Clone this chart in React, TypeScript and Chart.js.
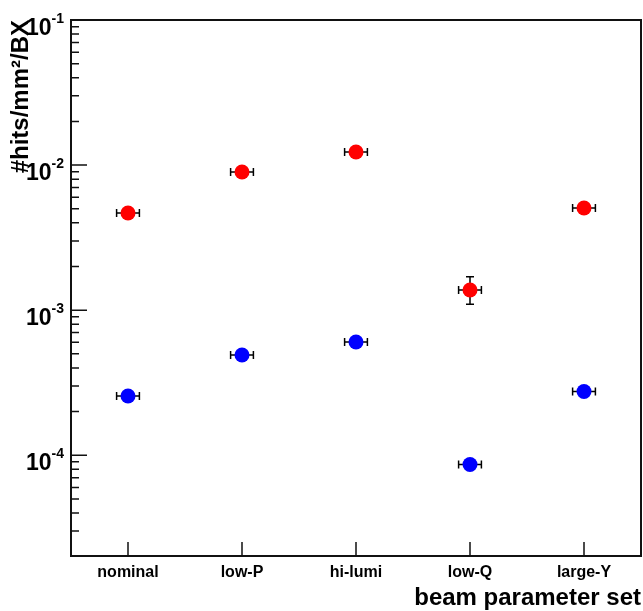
import React, { useEffect, useRef } from 'react';
import { Chart, registerables } from 'chart.js';

Chart.register(...registerables);

// ---- data ----
const categories = ['nominal', 'low-P', 'hi-lumi', 'low-Q', 'large-Y'];

const redValues = [4.67e-3, 8.96e-3, 1.23e-2, 1.377e-3, 5.06e-3];
const redErrLow = [4.5e-3, 8.65e-3, 1.19e-2, 1.097e-3, 4.9e-3];
const redErrHigh = [4.85e-3, 9.3e-3, 1.27e-2, 1.70e-3, 5.22e-3];

const blueValues = [2.56e-4, 4.91e-4, 6.03e-4, 8.63e-5, 2.75e-4];
const blueErrLow = [2.48e-4, 4.76e-4, 5.85e-4, 8.35e-5, 2.66e-4];
const blueErrHigh = [2.64e-4, 5.06e-4, 6.21e-4, 8.9e-5, 2.84e-4];

const xHalfWidths = [0.1, 0.1, 0.1, 0.1, 0.1];

const yDecadeExponents = [-4, -3, -2, -1];
const yMin = 2.02e-5;
const yMax = 0.1;

const xTitle = 'beam parameter set';
const yTitle = '#hits/mm\u00B2/BX';

const FONT = "'Liberation Sans', Arial, Helvetica, sans-serif";

const seriesList = [
  { values: redValues, low: redErrLow, high: redErrHigh, color: '#ff0000' },
  { values: blueValues, low: blueErrLow, high: blueErrHigh, color: '#0000ff' },
];

const decorPlugin = {
  id: 'rootDecor',
  beforeDatasetsDraw(chart: any) {
    const { ctx } = chart;
    const xs = chart.scales.x;
    const ys = chart.scales.y;
    ctx.save();
    ctx.strokeStyle = '#000';
    ctx.lineWidth = 1.5;
    const cap = 4;
    seriesList.forEach((s) => {
      s.values.forEach((v, i) => {
        const px = xs.getPixelForValue(i);
        const py = ys.getPixelForValue(v);
        const xl = xs.getPixelForValue(i - xHalfWidths[i]);
        const xr = xs.getPixelForValue(i + xHalfWidths[i]);
        const yl = ys.getPixelForValue(s.low[i]);
        const yh = ys.getPixelForValue(s.high[i]);
        ctx.beginPath();
        ctx.moveTo(xl, py);
        ctx.lineTo(xr, py);
        ctx.moveTo(xl, py - cap);
        ctx.lineTo(xl, py + cap);
        ctx.moveTo(xr, py - cap);
        ctx.lineTo(xr, py + cap);
        ctx.moveTo(px, yh);
        ctx.lineTo(px, yl);
        ctx.moveTo(px - cap, yh);
        ctx.lineTo(px + cap, yh);
        ctx.moveTo(px - cap, yl);
        ctx.lineTo(px + cap, yl);
        ctx.stroke();
      });
    });
    ctx.restore();
  },
  afterDraw(chart: any) {
    const { ctx, chartArea } = chart;
    const { left, top, right, bottom } = chartArea;
    const xs = chart.scales.x;
    const ys = chart.scales.y;
    ctx.save();
    // frame
    ctx.strokeStyle = '#111';
    ctx.lineWidth = 2;
    ctx.strokeRect(left, top, right - left, bottom - top);
    // y ticks
    ctx.lineWidth = 1.5;
    ctx.beginPath();
    ys.ticks.forEach((t: any) => {
      const lg = Math.log10(t.value);
      const major = Math.abs(lg - Math.round(lg)) < 1e-6;
      const py = ys.getPixelForValue(t.value);
      if (py < top + 1 || py > bottom - 1) return;
      ctx.moveTo(left, py);
      ctx.lineTo(left + (major ? 16 : 8), py);
    });
    // x ticks
    xs.ticks.forEach((t: any) => {
      const px = xs.getPixelForValue(t.value);
      ctx.moveTo(px, bottom);
      ctx.lineTo(px, bottom - 14);
    });
    ctx.stroke();
    // y tick labels 10^n
    ctx.fillStyle = '#000';
    ctx.textAlign = 'right';
    ctx.textBaseline = 'alphabetic';
    const labelRight = 64;
    yDecadeExponents.forEach((e) => {
      const py = ys.getPixelForValue(Math.pow(10, e));
      const sup = String(e);
      ctx.font = `bold 14px ${FONT}`;
      const supW = ctx.measureText(sup).width;
      ctx.fillText(sup, labelRight, py + 3);
      ctx.font = `bold 23px ${FONT}`;
      ctx.fillText('10', labelRight - supW, py + 15);
    });
    ctx.restore();
  },
};

export default function App() {
  const canvasRef = useRef<HTMLCanvasElement | null>(null);

  useEffect(() => {
    const canvas = canvasRef.current;
    if (!canvas) return;
    const chart = new Chart(canvas, {
      type: 'scatter',
      data: {
        datasets: seriesList.map((s, k) => ({
          label: k === 0 ? 'red' : 'blue',
          data: s.values.map((v, i) => ({ x: i, y: v })),
          backgroundColor: s.color,
          borderColor: s.color,
          pointRadius: 7.5,
          pointHoverRadius: 7.5,
          pointBorderWidth: 0,
        })),
      },
      options: {
        responsive: false,
        animation: false,
        devicePixelRatio: 1,
        layout: { autoPadding: false, padding: { top: 20, right: 2, left: 0, bottom: 0 } },
        plugins: { legend: { display: false }, tooltip: { enabled: false } },
        scales: {
          x: {
            type: 'linear',
            min: -0.5,
            max: 4.5,
            afterBuildTicks: (s: any) => {
              s.ticks = categories.map((_, i) => ({ value: i }));
            },
            afterFit: (s: any) => {
              s.height = 55;
              s.paddingLeft = 0;
              s.paddingRight = 0;
            },
            grid: { display: false, drawTicks: false },
            border: { display: false },
            ticks: {
              autoSkip: false,
              maxRotation: 0,
              padding: 7,
              color: '#000',
              font: { family: FONT, size: 16, weight: 'bold' },
              callback: (v: any) => categories[Math.round(Number(v))] ?? '',
            },
            title: {
              display: true,
              text: xTitle,
              align: 'end',
              color: '#000',
              font: { family: FONT, size: 24, weight: 'bold', lineHeight: 1 },
              padding: { top: 0, bottom: 1 },
            },
          },
          y: {
            type: 'logarithmic',
            min: yMin,
            max: yMax,
            afterBuildTicks: (s: any) => {
              const t: any[] = [];
              for (let e = -5; e <= -1; e++) {
                for (let k = 1; k <= 9; k++) {
                  const v = k * Math.pow(10, e);
                  if (v >= yMin && v <= yMax * 1.0001) t.push({ value: v, major: k === 1 });
                }
              }
              s.ticks = t;
            },
            afterFit: (s: any) => {
              s.width = 71;
              s.paddingTop = 0;
              s.paddingBottom = 0;
            },
            grid: { display: false, drawTicks: false },
            border: { display: false },
            ticks: { display: false },
            title: {
              display: true,
              text: yTitle,
              align: 'end',
              color: '#000',
              font: { family: FONT, size: 24, weight: 'bold', lineHeight: 1 },
              padding: { top: 9, bottom: 0 },
            },
          },
        },
      },
      plugins: [decorPlugin],
    } as any);
    return () => chart.destroy();
  }, []);

  return (
    <div style={{ position: 'absolute', left: 0, top: 0, width: 643, height: 611, background: '#fff' }}>
      <canvas ref={canvasRef} width={643} height={611} style={{ display: 'block' }} />
    </div>
  );
}
